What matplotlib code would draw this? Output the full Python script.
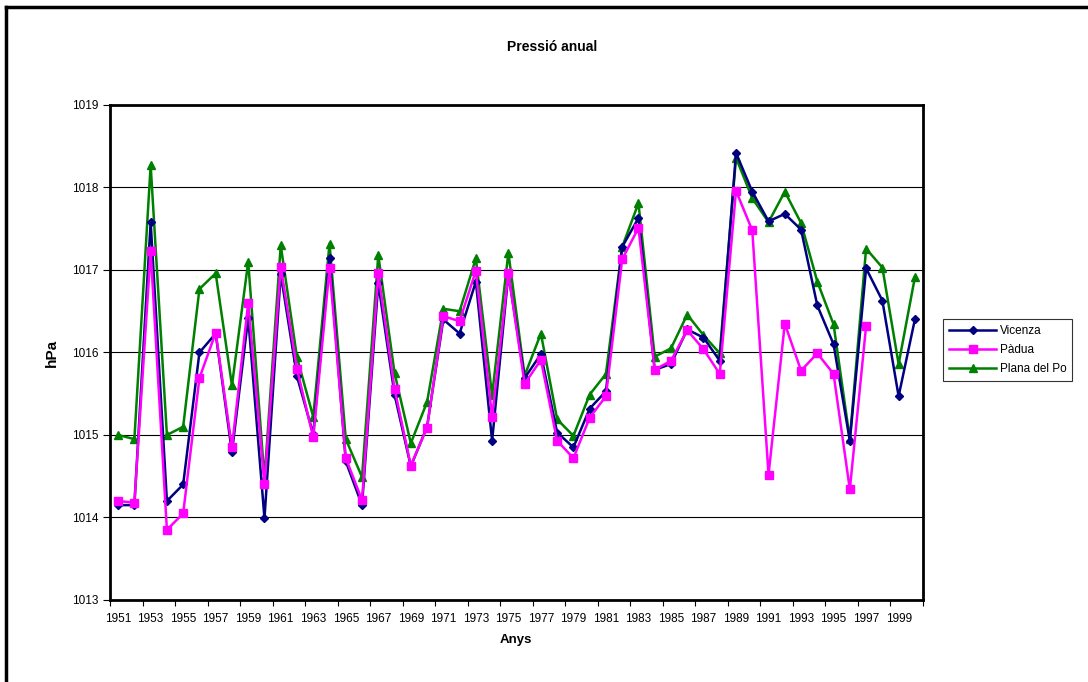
import numpy as np
import matplotlib
matplotlib.use('Agg')
import matplotlib.pyplot as plt
from matplotlib.lines import Line2D

plt.rcParams['font.family'] = ['Liberation Sans', 'DejaVu Sans']

years = list(range(1951, 2001))

vicenza = [1014.15, 1014.15, 1017.58, 1014.20, 1014.40, 1016.00, 1016.23, 1014.79, 1016.42, 1013.99,
           1016.95, 1015.71, 1015.01, 1017.15, 1014.68, 1014.15, 1016.84, 1015.49, 1014.62, 1015.10,
           1016.40, 1016.23, 1016.86, 1014.93, 1016.95, 1015.69, 1015.98, 1015.03, 1014.85, 1015.32,
           1015.53, 1017.28, 1017.63, 1015.79, 1015.86, 1016.28, 1016.18, 1015.90, 1018.42, 1017.95,
           1017.59, 1017.68, 1017.49, 1016.57, 1016.10, 1014.93, 1017.02, 1016.63, 1015.47, 1016.40]

padua = [1014.20, 1014.18, 1017.23, 1013.85, 1014.05, 1015.69, 1016.24, 1014.85, 1016.60, 1014.40,
         1017.04, 1015.80, 1014.97, 1017.02, 1014.72, 1014.21, 1016.96, 1015.56, 1014.63, 1015.09,
         1016.44, 1016.38, 1016.99, 1015.22, 1016.96, 1015.62, 1015.91, 1014.93, 1014.72, 1015.21,
         1015.47, 1017.13, 1017.51, 1015.79, 1015.90, 1016.27, 1016.04, 1015.74, 1017.96, 1017.48,
         1014.52, 1016.35, 1015.78, 1015.99, 1015.74, 1014.34, 1016.32, np.nan, np.nan, np.nan]

plana_po = [1015.00, 1014.95, 1018.27, 1015.00, 1015.10, 1016.77, 1016.96, 1015.60, 1017.10, 1014.47,
            1017.30, 1015.94, 1015.22, 1017.32, 1014.95, 1014.49, 1017.18, 1015.75, 1014.90, 1015.40,
            1016.53, 1016.50, 1017.14, 1015.48, 1017.21, 1015.72, 1016.23, 1015.19, 1014.99, 1015.49,
            1015.74, 1017.28, 1017.81, 1015.95, 1016.05, 1016.46, 1016.21, 1015.99, 1018.36, 1017.87,
            1017.58, 1017.95, 1017.57, 1016.86, 1016.34, 1014.95, 1017.26, 1017.03, 1015.86, 1016.91]

W, H = 1088, 682
fig = plt.figure(figsize=(W / 100, H / 100), dpi=100)
ax = fig.add_axes([110 / W, 1 - 600 / H, (923 - 110) / W, (600 - 105) / H])

x = np.arange(len(years))
ax.plot(x, vicenza, color='#000080', lw=1.8, marker='D', ms=4.5, label='Vicenza', zorder=3)
ax.plot(x, padua, color='#FF00FF', lw=1.8, marker='s', ms=5.5, label='Pàdua', zorder=4)
ax.plot(x, plana_po, color='#008000', lw=1.8, marker='^', ms=6, label='Plana del Po', zorder=2)

ax.set_xlim(-0.5, len(years) - 0.5)
ax.set_ylim(1013, 1019)
ax.set_yticks(range(1013, 1020))
ax.set_yticklabels([str(v) for v in range(1013, 1020)], fontsize=8.5)
ax.yaxis.grid(True, color='black', lw=0.8)
ax.set_axisbelow(True)

ax.set_xticks(x[::2])
ax.set_xticklabels([str(y) for y in years[::2]], fontsize=8.5)
ax.set_xticks(np.arange(-0.5, len(years), 2), minor=True)
ax.tick_params(axis='x', which='major', length=0, pad=9)
ax.tick_params(axis='x', which='minor', length=4, width=0.8, direction='out')
ax.tick_params(axis='y', length=5, width=0.8, direction='out', pad=3)

for s in ax.spines.values():
    s.set_linewidth(2)
    s.set_color('black')

fig.text(552 / W, 1 - 47 / H, 'Pressió anual', ha='center', va='center', fontsize=10, fontweight='bold')
fig.text(516 / W, 1 - 640 / H, 'Anys', ha='center', va='center', fontsize=9.5, fontweight='bold')
fig.text(52 / W, 1 - 353 / H, 'hPa', ha='center', va='center', rotation=90, fontsize=11, fontweight='bold')

leg = fig.legend(loc='upper left', bbox_to_anchor=(943 / W, 1 - 319 / H), fontsize=8.5,
                 frameon=True, fancybox=False, handlelength=4, handletextpad=0.3,
                 borderpad=0.5, labelspacing=0.6, borderaxespad=0)
leg.get_frame().set_edgecolor('black')
leg.get_frame().set_linewidth(0.8)

# chart area border (top and left visible)
fig.add_artist(Line2D([6 / W, 1], [1 - 7 / H, 1 - 7 / H], color='black', lw=2.5, transform=fig.transFigure))
fig.add_artist(Line2D([6 / W, 6 / W], [0, 1 - 7 / H], color='black', lw=2.5, transform=fig.transFigure))

fig.savefig('out.png', dpi=100)
